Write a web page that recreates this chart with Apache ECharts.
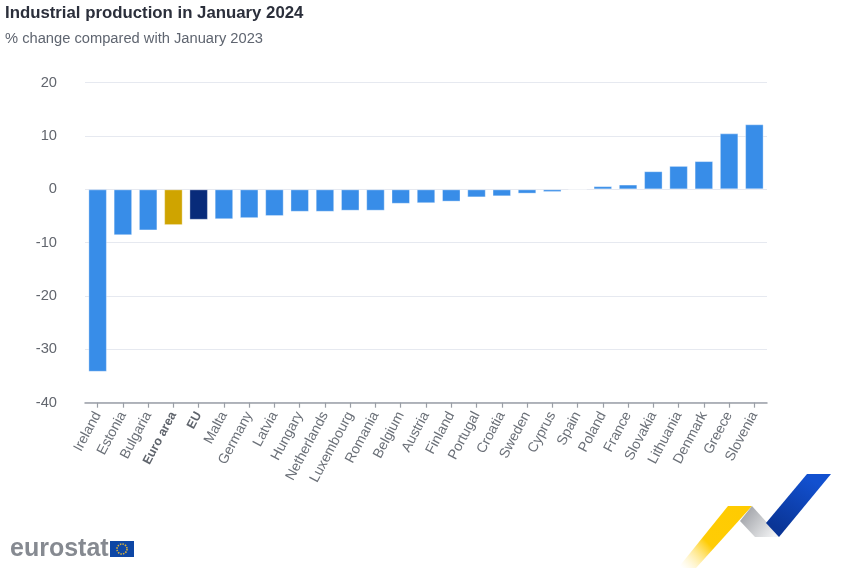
<!DOCTYPE html>
<html><head><meta charset="utf-8">
<style>html,body{margin:0;padding:0;background:#fff}#c{width:851px;height:568px}</style>
<script src="https://cdn.jsdelivr.net/npm/echarts@6/dist/echarts.min.js"></script>
</head><body><div id="c"></div>
<script>
const categories = ["Ireland","Estonia","Bulgaria","Euro area","EU","Malta","Germany","Latvia","Hungary","Netherlands","Luxembourg","Romania","Belgium","Austria","Finland","Portugal","Croatia","Sweden","Cyprus","Spain","Poland","France","Slovakia","Lithuania","Denmark","Greece","Slovenia"];
const values = [-34.2,-8.6,-7.7,-6.7,-5.7,-5.6,-5.4,-5.0,-4.2,-4.2,-4.0,-4.0,-2.7,-2.6,-2.3,-1.5,-1.3,-0.8,-0.5,0,0.6,0.9,3.4,4.4,5.3,10.5,12.2];
const colorCountry = "#388de8", colorEA = "#cfa400", colorEU = "#082b7a";
const bold = new Set(["Euro area","EU"]);
const font = "Liberation Sans, Arial, sans-serif";
const chart = echarts.init(document.getElementById('c'),null,{renderer:'canvas'});
chart.setOption({
 animation:false,
 backgroundColor:'#fff',
 title:[
  {text:'Industrial production in January 2024',left:5,top:5,padding:0,textStyle:{fontFamily:font,fontSize:16.8,fontWeight:'bold',color:'#2b2f3b'}},
  {text:'% change compared with January 2023',left:5,top:31,padding:0,textStyle:{fontFamily:font,fontSize:14.7,fontWeight:'normal',color:'#5f6570'}}
 ],
 grid:{left:85,top:82.7,width:682,height:320,containLabel:false},
 xAxis:{type:'category',data:categories,position:'bottom',
  axisLine:{onZero:false,lineStyle:{color:'#9a9ea6',width:1.5}},
  axisTick:{show:true,alignWithLabel:true,length:5,lineStyle:{color:'#9a9ea6',width:1.2}},
  axisLabel:{rotate:62,interval:0,margin:10,fontFamily:font,fontSize:14,color:'#6b7078',
    formatter:v=>bold.has(v)?'{b|'+v+'}':v,
    rich:{b:{fontWeight:'bold',fontFamily:font,fontSize:12.5,color:'#5f646c'}}}
 },
 yAxis:{type:'value',min:-40,max:20,interval:10,
  axisLine:{show:false},axisTick:{show:false},
  axisLabel:{margin:28,fontFamily:font,fontSize:14.7,color:'#62666e'},
  splitLine:{lineStyle:{color:'#e6e9f0',width:1.2}}
 },
 series:[{type:'bar',barWidth:18.5,
  data:values.map((v,i)=>({value:v,itemStyle:{color:categories[i]==='Euro area'?colorEA:categories[i]==='EU'?colorEU:colorCountry}})),
  itemStyle:{borderColor:'rgba(255,255,255,0.35)',borderWidth:1}
 }],
 graphic:[
  {type:'text',left:10,top:537,style:{text:'eurostat',fontFamily:font,fontSize:25,fontWeight:'bold',fill:'#868a91'}},
  {type:'rect',shape:{x:110,y:541,width:24,height:16},style:{fill:'#0e47a5'}},
  {type:'circle',shape:{cx:122,cy:549,r:5},style:{fill:'none',stroke:'#d9b23a',lineWidth:1.6,lineDash:[1.5,1.1]}},
  {type:'polygon',shape:{points:[[728,506],[752,506],[696,568],[678,568]]},style:{fill:{type:'linear',x:0.95,y:0,x2:0.05,y2:1,colorStops:[{offset:0,color:'#ffcb00'},{offset:0.6,color:'#ffcc05'},{offset:1,color:'rgba(255,235,160,0)'}]}}},
  {type:'polygon',shape:{points:[[752,506],[780,537],[755,537],[740,521]]},style:{fill:{type:'linear',x:0.2,y:0.2,x2:0.9,y2:0.9,colorStops:[{offset:0,color:'#a9abb0'},{offset:1,color:'#f2f3f4'}]}}},
  {type:'polygon',shape:{points:[[807,474],[831,474],[779,537],[766,523]]},style:{fill:{type:'linear',x:0.7,y:0.1,x2:0.25,y2:0.9,colorStops:[{offset:0,color:'#1250cf'},{offset:1,color:'#0a3596'}]}}}
 ]
});
</script></body></html>
